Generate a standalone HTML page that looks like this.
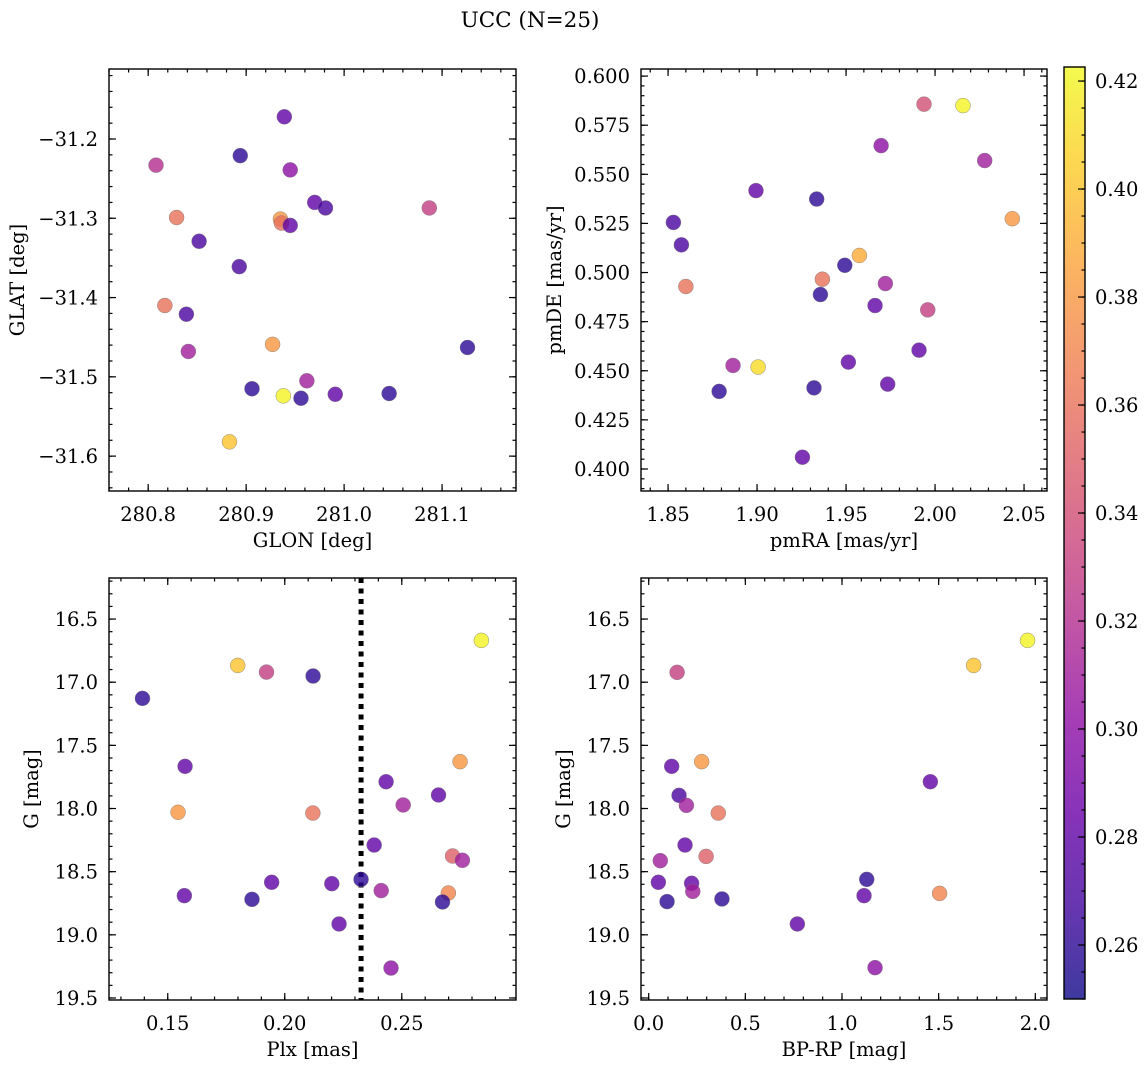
<!DOCTYPE html>
<html><head><meta charset="utf-8">
<style>
html,body{margin:0;padding:0;background:#fff;}
svg{display:block;font-family:"DejaVu Serif","Liberation Serif",serif;}
</style></head>
<body>
<svg id="fig" width="1148" height="1067" viewBox="0 0 1148 1067" xmlns="http://www.w3.org/2000/svg">
<text x="530" y="27" font-size="21.5" text-anchor="middle">UCC (N=25)</text>
</svg>
<script>
// ---- Panel 1: GLON vs GLAT ----
const p1Glon = [280.808,280.829,280.894,280.939,280.945,280.970,280.981,280.935,280.936,280.945,281.087,280.852,280.893,280.817,280.839,280.841,280.927,281.126,280.906,280.938,280.956,280.962,280.991,281.046,280.883];
const p1Glat = [-31.233,-31.299,-31.221,-31.172,-31.239,-31.280,-31.287,-31.301,-31.306,-31.309,-31.287,-31.329,-31.361,-31.410,-31.421,-31.468,-31.459,-31.463,-31.515,-31.524,-31.527,-31.505,-31.522,-31.521,-31.582];
const p1Col = [0.32,0.36,0.26,0.28,0.30,0.28,0.27,0.38,0.36,0.28,0.33,0.27,0.27,0.36,0.27,0.31,0.38,0.26,0.26,0.42,0.26,0.31,0.28,0.26,0.40];
// ---- Panel 2: pmRA vs pmDE ----
const p2PmRA = [1.853,1.8575,1.860,1.8787,1.8865,1.9006,1.8994,1.9255,1.932,1.9335,1.9356,1.9367,1.9493,1.9575,1.9513,1.9697,1.9663,1.9721,1.9734,1.991,1.9938,1.9959,2.0157,2.0279,2.0434];
const p2PmDE = [0.5255,0.5141,0.4929,0.4395,0.4527,0.4519,0.5417,0.4060,0.4413,0.5374,0.4888,0.4966,0.5037,0.5087,0.4544,0.5646,0.4832,0.4944,0.4432,0.4605,0.5857,0.4810,0.5850,0.557,0.5274];
const p2Col = [0.27,0.27,0.36,0.26,0.31,0.41,0.28,0.28,0.26,0.26,0.26,0.36,0.26,0.39,0.28,0.30,0.28,0.31,0.28,0.28,0.34,0.33,0.42,0.31,0.38];
// ---- Panel 3: Plx vs G ----
const p3Plx = [0.1392,0.1799,0.1922,0.2121,0.2840,0.1574,0.1544,0.2120,0.2749,0.2433,0.2657,0.2506,0.2382,0.2717,0.2759,0.1571,0.1860,0.1944,0.2201,0.2326,0.2412,0.2699,0.2674,0.2232,0.2454];
const p3G = [17.128,16.867,16.920,16.951,16.669,17.666,18.030,18.036,17.629,17.788,17.893,17.972,18.289,18.376,18.410,18.690,18.719,18.584,18.595,18.561,18.650,18.669,18.740,18.914,19.263];
const p3Col = [0.26,0.40,0.33,0.26,0.42,0.28,0.38,0.36,0.38,0.28,0.28,0.31,0.28,0.35,0.31,0.28,0.26,0.28,0.28,0.26,0.31,0.37,0.26,0.28,0.30];
const p3PlxLine = [0.2326];
// ---- Panel 4: BP-RP vs G ----
const p4BpRp = [0.147,1.681,1.960,0.119,0.274,0.157,0.195,0.360,1.457,0.188,0.060,0.297,0.050,0.222,0.228,0.095,0.379,1.128,1.114,1.505,0.769,1.171];
const p4G = [16.922,16.867,16.669,17.666,17.629,17.896,17.975,18.036,17.788,18.289,18.413,18.379,18.584,18.592,18.656,18.737,18.716,18.561,18.690,18.672,18.914,19.260];
const p4Col = [0.33,0.40,0.42,0.28,0.38,0.27,0.31,0.36,0.28,0.28,0.31,0.35,0.28,0.28,0.31,0.26,0.26,0.26,0.28,0.37,0.28,0.30];
// ---- Colorbar ----
const cbTicks = [0.26,0.28,0.30,0.32,0.34,0.36,0.38,0.40,0.42];

const NS = "http://www.w3.org/2000/svg";
const svg = document.getElementById('fig');
const FS = 19.5;
const CMIN = 0.25, CMAX = 0.4226;
const plasma = ["#0d0887","#41049d","#6a00a8","#8f0da4","#b12a90","#cc4778","#e16462","#f2844b","#fca636","#fcce25","#f0f921"];
function hex(h){return [parseInt(h.slice(1,3),16),parseInt(h.slice(3,5),16),parseInt(h.slice(5,7),16)];}
function cmap(v){
  let t=(v-CMIN)/(CMAX-CMIN); t=Math.max(0,Math.min(1,t));
  const f=t*10, i=Math.min(9,Math.floor(f)), r=f-i;
  const a=hex(plasma[i]), b=hex(plasma[i+1]);
  return 'rgb('+a.map((c,k)=>Math.round(c+(b[k]-c)*r)).join(',')+')';
}
function mk(tag, attrs, parent){
  const e=document.createElementNS(NS,tag);
  for(const k in attrs) e.setAttribute(k,attrs[k]);
  (parent||svg).appendChild(e); return e;
}
function fmtMinus(s){return s.replace('-','\u2212');}

function panel(o){
  const g=mk('g',{});
  
  
  const W=o.x1-o.x0, H=o.y1-o.y0;
  const sx=v=>o.x0+(v-o.xa)/(o.xb-o.xa)*W;
  const sy=v=>o.y0+(v-o.ya)/(o.yb-o.ya)*H;
  const tg=mk('g',{stroke:'#000','stroke-width':1.2},g);
  
  
  function ticks(lo,hi,step){const r=[];const a=Math.ceil(Math.min(lo,hi)/step-1e-6),b=Math.floor(Math.max(lo,hi)/step+1e-6);for(let k=a;k<=b;k++)r.push(k*step);return r;}
  ticks(o.xa,o.xb,o.xminor).forEach(v=>{const x=sx(v);mk('line',{x1:x,x2:x,y1:o.y1,y2:o.y1-3.5},tg);mk('line',{x1:x,x2:x,y1:o.y0,y2:o.y0+3.5},tg);});
  ticks(o.ya,o.yb,o.yminor).forEach(v=>{const y=sy(v);mk('line',{x1:o.x0,x2:o.x0+3.5,y1:y,y2:y},tg);mk('line',{x1:o.x1,x2:o.x1-3.5,y1:y,y2:y},tg);});
  ticks(o.xa,o.xb,o.xmajor).forEach(v=>{const x=sx(v);mk('line',{x1:x,x2:x,y1:o.y1,y2:o.y1-7},tg);mk('line',{x1:x,x2:x,y1:o.y0,y2:o.y0+7},tg);
    const t=mk('text',{x:x,y:o.y1+30,'font-size':FS,'text-anchor':'middle'},g);t.textContent=fmtMinus(v.toFixed(o.xdec));
    
    });
  ticks(o.ya,o.yb,o.ymajor).forEach(v=>{const y=sy(v);mk('line',{x1:o.x0,x2:o.x0+7,y1:y,y2:y},tg);mk('line',{x1:o.x1,x2:o.x1-7,y1:y,y2:y},tg);
    const t=mk('text',{x:o.x0-11,y:y+7,'font-size':FS,'text-anchor':'end'},g);t.textContent=fmtMinus(v.toFixed(o.ydec));
    
    });
  if(o.vline){o.vline.forEach(v=>{const l=mk('line',{x1:sx(v),x2:sx(v),y1:o.y0,y2:o.y1,stroke:'#000','stroke-width':5,'stroke-dasharray':'5,5.5'},g);
    
    });}
  o.xs.forEach((xv,i)=>{
    const c=mk('circle',{cx:sx(xv),cy:sy(o.ys[i]),r:7.5,fill:cmap(o.cs[i]),'fill-opacity':0.8,stroke:'#777','stroke-width':0.5,'stroke-opacity':0.8},g);
    
    
  });
  const fr=mk('rect',{x:o.x0,y:o.y0,width:W,height:H,fill:'none',stroke:'#000','stroke-width':1.4},g);
  
  
  const xl=mk('text',{x:(o.x0+o.x1)/2,y:o.y1+56,'font-size':FS,'text-anchor':'middle'},g);xl.textContent=o.xlabel;
  
  
  const yl=mk('text',{x:0,y:0,'font-size':FS,'text-anchor':'middle',transform:'translate('+o.ylx+','+((o.y0+o.y1)/2)+') rotate(-90)'},g);yl.textContent=o.ylabel;
  
  
}

panel({name:'glon-glat-panel',x0:109,x1:516,y0:69,y1:491,xa:280.760,xb:281.1755,ya:-31.1117,yb:-31.644,
  xmajor:0.1,xminor:0.02,ymajor:0.1,yminor:0.02,xdec:1,ydec:1,xs:p1Glon,ys:p1Glat,cs:p1Col,xlabel:'GLON [deg]',ylabel:'GLAT [deg]',ylx:24});
panel({name:'pm-panel',x0:641,x1:1047,y0:69,y1:491,xa:1.8348,xb:2.0629,ya:0.6036,yb:0.3888,
  xmajor:0.05,xminor:0.01,ymajor:0.025,yminor:0.005,xdec:2,ydec:3,xs:p2PmRA,ys:p2PmDE,cs:p2Col,xlabel:'pmRA [mas/yr]',ylabel:'pmDE [mas/yr]',ylx:561});
panel({name:'plx-g-panel',x0:109,x1:516,y0:578,y1:1000,xa:0.1249,xb:0.2988,ya:16.175,yb:19.516,
  xmajor:0.05,xminor:0.01,ymajor:0.5,yminor:0.1,xdec:2,ydec:1,xs:p3Plx,ys:p3G,cs:p3Col,vline:p3PlxLine,xlabel:'Plx [mas]',ylabel:'G [mag]',ylx:38});
panel({name:'cmd-panel',x0:641,x1:1047,y0:578,y1:1000,xa:-0.0398,xb:2.0605,ya:16.175,yb:19.516,
  xmajor:0.5,xminor:0.1,ymajor:0.5,yminor:0.1,xdec:1,ydec:1,xs:p4BpRp,ys:p4G,cs:p4Col,xlabel:'BP-RP [mag]',ylabel:'G [mag]',ylx:570});

(function(){
  const x0=1064,x1=1085,y0=67,y1=999;
  const g=mk('g',{});
  
  
  const defs=mk('defs',{},g);
  const lg=mk('linearGradient',{id:'cbg',x1:0,y1:1,x2:0,y2:0},defs);
  for(let i=0;i<=20;i++){const v=CMIN+(CMAX-CMIN)*i/20;mk('stop',{offset:(i/20),'stop-color':cmap(v),'stop-opacity':0.8},lg);}
  mk('rect',{x:x0,y:y0,width:x1-x0,height:y1-y0,fill:'url(#cbg)'},g);
  const sy=v=>y1-(v-CMIN)/(CMAX-CMIN)*(y1-y0);
  for(let k=Math.ceil(CMIN/0.005);k*0.005<=CMAX;k++){const y=sy(k*0.005);mk('line',{x1:x1,x2:x1-3.5,y1:y,y2:y,stroke:'#000','stroke-width':1.2},g);}
  cbTicks.forEach(v=>{const y=sy(v);mk('line',{x1:x1,x2:x1-7,y1:y,y2:y,stroke:'#000','stroke-width':1.2},g);
    const t=mk('text',{x:x1+10,y:y+7,'font-size':FS},g);t.textContent=v.toFixed(2);
    
    });
  mk('rect',{x:x0,y:y0,width:x1-x0,height:y1-y0,fill:'none',stroke:'#000','stroke-width':1.4},g);
})();
</script>
</body></html>
